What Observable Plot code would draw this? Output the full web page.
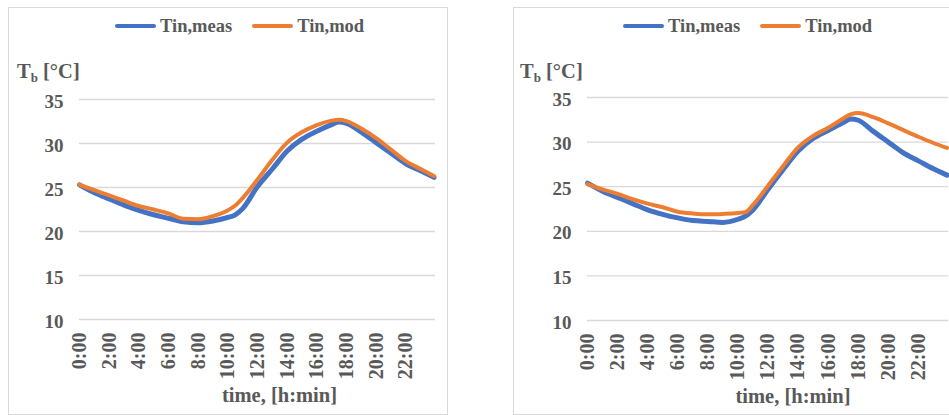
<!DOCTYPE html>
<html>
<head>
<meta charset="utf-8">
<script src="https://cdn.jsdelivr.net/npm/d3@7"></script>
<script src="https://cdn.jsdelivr.net/npm/@observablehq/plot@0.6"></script>
<style>
  html, body { margin: 0; padding: 0; background: #fff; overflow: hidden; }
  body {
    width: 949px; height: 415px; position: relative;
    font-family: "Liberation Serif", "Times New Roman", serif;
    font-weight: bold; color: #595959;
  }
  .panel { position: absolute; top: 7px; width: 440px; height: 408px;
           border: 1px solid #d9d9d9; box-sizing: border-box; }
  .legend { position: absolute; top: 16px; height: 21px; line-height: 21px;
            display: flex; align-items: center; font-size: 18.5px; white-space: nowrap; }
  .legend .sw { display: inline-block; width: 41px; height: 4px; border-radius: 2px;
                margin-right: 4px; position: relative; top: -1px; }
  .legend .item { display: flex; align-items: center; margin-right: 20px; }
  .ylabel { position: absolute; top: 61px; font-size: 20.5px; line-height: 20px; white-space: nowrap; }
  .ylabel sub { font-size: 13px; vertical-align: -4px; line-height: 0; }
</style>
</head>
<body>
<script>
// Time of day in hours
const hours = [0, 1, 2, 3, 4, 5, 6, 7, 8, 9, 10, 10.5, 11, 12, 13, 14, 15, 16, 17, 17.5, 18, 19, 20, 21, 22, 23, 23.9];

// Left panel: measured and modelled indoor temperature, °C
const leftMeas = [25.3, 24.4, 23.7, 23.0, 22.4, 21.9, 21.5, 21.1, 21.0, 21.2, 21.6, 21.9, 22.6, 25.1, 27.1, 29.15, 30.5, 31.4, 32.15, 32.45, 32.3, 31.3, 30.1, 28.9, 27.7, 26.9, 26.15];
const leftMod  = [25.3, 24.7, 24.1, 23.5, 22.9, 22.5, 22.05, 21.45, 21.4, 21.75, 22.4, 22.95, 23.8, 25.9, 28.15, 30.1, 31.3, 32.1, 32.6, 32.7, 32.55, 31.7, 30.6, 29.3, 28.0, 27.1, 26.3];

// Right panel: measured and modelled indoor temperature, °C
const rightMeas = [25.4, 24.5, 23.8, 23.1, 22.4, 21.9, 21.5, 21.2, 21.1, 21.0, 21.35, 21.7, 22.4, 24.7, 26.9, 29.0, 30.4, 31.3, 32.2, 32.6, 32.45, 31.2, 30.0, 28.8, 27.9, 27.0, 26.3];
const rightMod  = [25.3, 24.7, 24.2, 23.6, 23.1, 22.7, 22.2, 22.0, 21.9, 21.95, 22.05, 22.15, 22.95, 25.1, 27.3, 29.4, 30.7, 31.6, 32.65, 33.1, 33.25, 32.8, 32.1, 31.35, 30.6, 29.9, 29.35];

// Axis ticks and texts
const xTicks = [0, 2, 4, 6, 8, 10, 12, 14, 16, 18, 20, 22];
const yTicks = [10, 15, 20, 25, 30, 35];
const seriesNames = ["Tin,meas", "Tin,mod"];
const xTitle = "time, [h:min]";
const colors = ["#4472C4", "#ED7D31"];

function panel(cfg) {
  const box = document.createElement("div");
  box.className = "panel";
  box.style.left = cfg.left + "px";
  document.body.appendChild(box);

  // legend
  const leg = document.createElement("div");
  leg.className = "legend";
  leg.style.left = (cfg.left + cfg.legendLeft) + "px";
  seriesNames.forEach((name, i) => {
    const item = document.createElement("span");
    item.className = "item";
    const sw = document.createElement("span");
    sw.className = "sw";
    sw.style.background = colors[i];
    item.appendChild(sw);
    item.appendChild(document.createTextNode(name));
    leg.appendChild(item);
  });
  document.body.appendChild(leg);

  // y axis title
  const yl = document.createElement("div");
  yl.className = "ylabel";
  yl.style.left = (cfg.left + cfg.ylabelLeft) + "px";
  yl.innerHTML = "T<sub>b</sub> [°C]";
  document.body.appendChild(yl);

  const rows = hours.map((h, i) => ({h, meas: cfg.meas[i], mod: cfg.mod[i]}));

  const chart = Plot.plot({
    width: cfg.width,
    height: 330,
    marginLeft: cfg.marginLeft,
    marginRight: cfg.marginRight,
    marginTop: cfg.marginTop,
    marginBottom: cfg.marginBottom,
    style: {
      fontFamily: '"Liberation Serif", "Times New Roman", serif',
      fontSize: "19px",
      fontWeight: "bold",
      color: "#595959",
      background: "transparent",
      overflow: "visible"
    },
    x: {domain: [0, 24]},
    y: {domain: [10, 35]},
    marks: [
      Plot.gridY(yTicks, {stroke: "#d9d9d9", strokeOpacity: 1, strokeWidth: 1.3}),
      Plot.axisY(yTicks, {tickSize: 0, tickPadding: 16, label: null, dy: 2, fontSize: 19}),
      Plot.axisX(xTicks, {tickSize: 0, tickPadding: 13, tickRotate: -90, fontSize: 20,
                          tickFormat: h => `${h}:00`, label: null}),
      Plot.text([xTitle], {text: d => d, frameAnchor: "bottom", dy: 82, dx: cfg.titleDx,
                           fontSize: 20.5, fill: "#595959"}),
      Plot.line(rows, {x: "h", y: "meas", stroke: colors[0], strokeWidth: 5,
                       curve: "monotone-x", strokeLinecap: "round", strokeLinejoin: "round"}),
      Plot.line(rows, {x: "h", y: "mod", stroke: colors[1], strokeWidth: 4,
                       curve: "monotone-x", strokeLinecap: "round", strokeLinejoin: "round"})
    ]
  });
  chart.style.position = "absolute";
  chart.style.left = cfg.left + "px";
  chart.style.top = "80px";
  document.body.appendChild(chart);
}

panel({left: 8, width: 440, marginLeft: 71, marginRight: 13, marginTop: 19, marginBottom: 91,
       legendLeft: 107, ylabelLeft: 9, titleDx: 22, meas: leftMeas, mod: leftMod});
panel({left: 513, width: 440, marginLeft: 74, marginRight: 5, marginTop: 17, marginBottom: 90,
       legendLeft: 110, ylabelLeft: 7, titleDx: 25, meas: rightMeas, mod: rightMod});
</script>
</body>
</html>
